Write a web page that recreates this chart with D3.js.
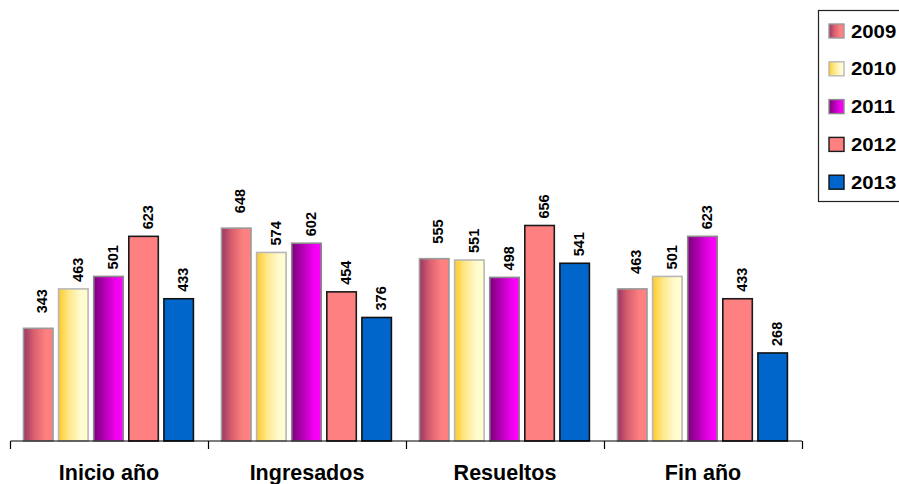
<!DOCTYPE html>
<html><head><meta charset="utf-8">
<script src="https://cdn.jsdelivr.net/npm/d3@7"></script>
<style>
html,body{margin:0;padding:0;background:#fff;}
svg{display:block;font-family:Arial,"Liberation Sans",sans-serif;}
</style></head>
<body>
<svg id="chart" width="899" height="484"></svg>
<script>
const categories = ["Inicio año", "Ingresados", "Resueltos", "Fin año"];
const years = ["2009", "2010", "2011", "2012", "2013"];
const values2009 = [343, 648, 555, 463];
const values2010 = [463, 574, 551, 501];
const values2011 = [501, 602, 498, 623];
const values2012 = [623, 454, 656, 433];
const values2013 = [433, 376, 541, 268];
const seriesValues = [values2009, values2010, values2011, values2012, values2013];

const svg = d3.select("#chart");
const defs = svg.append("defs");

const styles = [
  {grad: ["#9a3563", "#d8606f", "#ff8080", "#ff8080"], stroke: "#9a9a9a"},
  {grad: ["#ffc929", "#ffe88a", "#fffbd0", "#ffffcc"], stroke: "#b8b8b8"},
  {grad: ["#7a007a", "#b000b0", "#f000f0", "#ff00ff"], stroke: "#8a8a8a"},
  {solid: "#ff8080", stroke: "#1a1a1a"},
  {solid: "#0066cc", stroke: "#111111"}
];
styles.forEach((s, i) => {
  if (s.grad) {
    const g = defs.append("linearGradient").attr("id", "g" + i)
      .attr("x1", "0%").attr("x2", "100%").attr("y1", "0%").attr("y2", "0%");
    const offs = [0, 0.35, 0.75, 1];
    s.grad.forEach((c, k) => g.append("stop").attr("offset", offs[k]).attr("stop-color", c));
    s.fill = "url(#g" + i + ")";
  } else s.fill = s.solid;
});

const x0 = d3.scaleBand().domain(categories).range([10, 802]).padding(0);
const x1 = d3.scaleBand().domain(years).range([13.5, 183.4]).paddingInner(0.16).paddingOuter(0);
const y = d3.scaleLinear().domain([0, 1200]).range([441, 46.8]);

const data = [];
categories.forEach((c, ci) => years.forEach((yr, si) => data.push({c, yr, si, v: seriesValues[si][ci]})));

const g = svg.append("g");
g.selectAll("rect.bar").data(data).enter().append("rect")
  .attr("class", "bar")
  .attr("x", d => x0(d.c) + x1(d.yr))
  .attr("y", d => y(d.v))
  .attr("width", x1.bandwidth())
  .attr("height", d => y(0) - y(d.v))
  .attr("fill", d => styles[d.si].fill)
  .attr("stroke", d => styles[d.si].stroke)
  .attr("stroke-width", 1.6);

g.selectAll("text.lbl").data(data).enter().append("text")
  .attr("class", "lbl")
  .attr("transform", d => {
    const cx = x0(d.c) + x1(d.yr) + x1.bandwidth() / 2 + 9.2;
    const gap = d.si === 0 ? 15 : 7;
    return `translate(${cx},${y(d.v) - gap}) rotate(-90)`;
  })
  .attr("text-anchor", "start")
  .attr("font-size", "14.5px").attr("font-weight", "bold").attr("fill", "#000")
  .text(d => d.v);

// axis
const axis = d3.axisBottom(x0).tickSize(0).tickPadding(0).tickFormat("");
const ax = svg.append("g").attr("transform", "translate(0,441)").call(axis);
ax.select(".domain").attr("stroke", "#000").attr("stroke-width", 1.2).attr("d", "M10.5,0H802");
ax.selectAll(".tick").remove();
const bounds = [10, ...categories.map(c => x0(c) + x0.bandwidth())];
ax.selectAll("line.sep").data(bounds).enter().append("line")
  .attr("x1", d => Math.round(d) + 0.5).attr("x2", d => Math.round(d) + 0.5)
  .attr("y1", 0).attr("y2", 8).attr("stroke", "#000").attr("stroke-width", 1.2);
svg.selectAll("text.cat").data(categories).enter().append("text")
  .attr("class", "cat")
  .attr("x", d => x0(d) + x0.bandwidth() / 2)
  .attr("y", 480)
  .attr("text-anchor", "middle")
  .attr("font-size", "21.5px").attr("font-weight", "bold").attr("fill", "#000")
  .text(d => d);

// legend
const lg = svg.append("g");
lg.append("rect").attr("x", 818.5).attr("y", 10.5).attr("width", 90).attr("height", 191)
  .attr("fill", "#fff").attr("stroke", "#222").attr("stroke-width", 1.2);
const items = lg.selectAll("g.item").data(years).enter().append("g")
  .attr("transform", (d, i) => `translate(0,${31 + i * 37.8})`);
items.append("rect").attr("x", 829).attr("y", -7).attr("width", 15).attr("height", 14)
  .attr("fill", (d, i) => styles[i].fill).attr("stroke", (d, i) => styles[i].stroke).attr("stroke-width", 1.4);
items.append("text").attr("transform", "translate(851,6.5) scale(1.1,1)")
  .attr("font-size", "18.5px").attr("font-weight", "bold").attr("fill", "#000")
  .text(d => d);
</script>
</body></html>
